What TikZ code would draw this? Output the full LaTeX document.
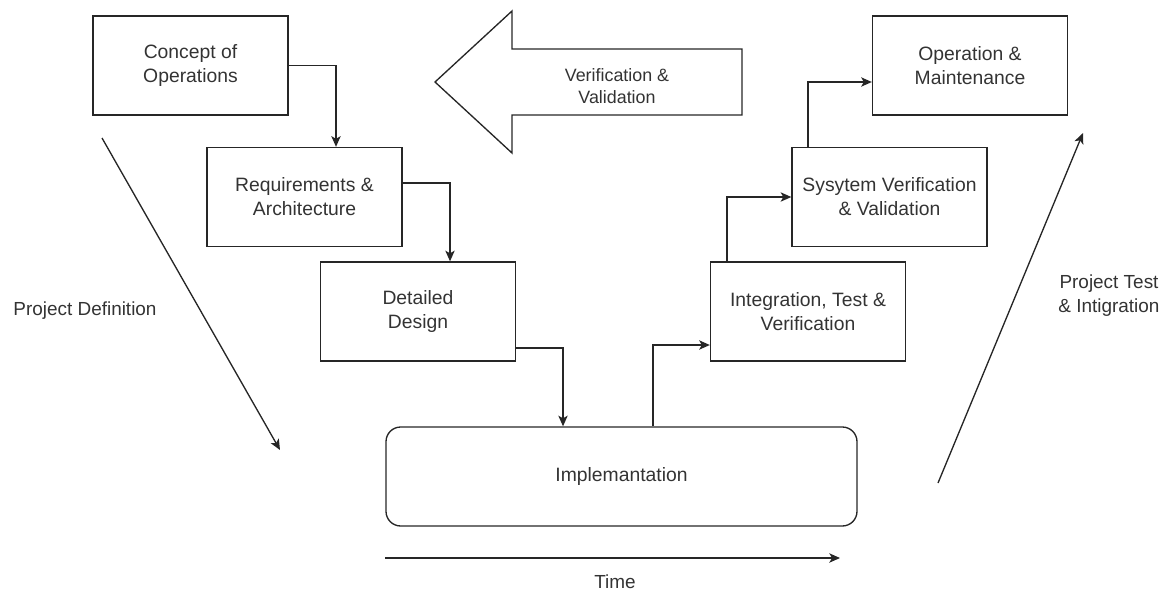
\documentclass[tikz,border=0pt]{standalone}
\usepackage{fontspec}
\setmainfont{Liberation Sans}
\usetikzlibrary{arrows.meta,calc}
\begin{document}
\begin{tikzpicture}[x=0.75pt,y=-0.75pt,
  box/.style={draw=black!85, line width=1pt, minimum width=146.25pt, minimum height=74.25pt, align=center, font=\fontsize{14.5}{18}\selectfont, text=black!80, inner sep=0pt},
  conn/.style={draw=black!85, line width=1pt, -{Stealth[length=8pt,width=7pt,inset=2pt]}},
  lbl/.style={align=center, font=\fontsize{14.2}{18}\selectfont, text=black!80, inner sep=0pt},
]
\useasboundingbox (0,0) rectangle (1167,593);

% boxes
\node[box] (concept) at (190.5,65.5) {Concept of\\Operations};
\node[box] (req) at (304.5,197) {Requirements \&\\Architecture};
\node[box] (det) at (418,311.5) {Detailed\\Design};
\node[box, minimum width=353.25pt, rounded corners=11pt] (impl) at (621.5,476.5) {Implemantation};
\node[box] (integ) at (808,311.5) {Integration, Test \&\\Verification};
\node[box] (sys) at (889.5,197) {Sysytem Verification\\\& Validation};
\node[box] (op) at (970,65.5) {Operation \&\\Maintenance};

% connectors
\draw[conn] (concept.east) -| ($(req.north)+(31.5,0)$);
\draw[conn] ($(req.east)+(0,-14)$) -| ($(det.north)+(32,0)$);
\draw[conn] ($(det.east)+(0,36.5)$) -| ($(impl.north)+(-58.5,0)$);
\draw[conn] ($(impl.north)+(31.5,0)$) |- ($(integ.west)+(0,33.5)$);
\draw[conn] ($(integ.north)+(-81,0)$) |- (sys.west);
\draw[conn] ($(sys.north)+(-81.5,0)$) |- ($(op.west)+(0,16.5)$);

% big arrow
\draw[line width=1pt, draw=black!85, line join=miter] (742,49) -- (512,49) -- (512,11) -- (435,82) -- (512,153) -- (512,115) -- (742,115) -- cycle;
\node[lbl, font=\fontsize{13.4}{16.5}\selectfont] (vv) at (617,86) {Verification \&\\Validation};

% free arrows
\coordinate (pdA) at (102,138);
\coordinate (pdB) at (280,450);
\draw[conn] (pdA) -- (pdB);
\node[lbl] (pd) at (85,311) {Project Definition};

\coordinate (ptA) at (938,483);
\coordinate (ptB) at (1083,133);
\draw[conn] (ptA) -- (ptB);
\node[lbl] (pt) at (1109,296) {Project Test\\\& Intigration};

\coordinate (tA) at (385,558);
\coordinate (tB) at (840,558);
\draw[conn] (tA) -- (tB);
\node[lbl] (time) at (615,582) {Time};
\end{tikzpicture}
\end{document}
